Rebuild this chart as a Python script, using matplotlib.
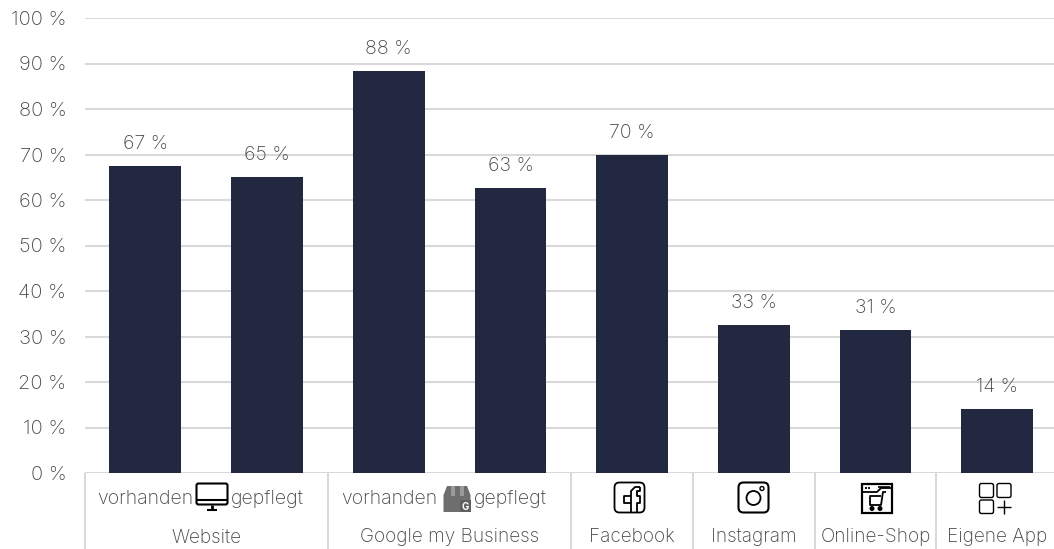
import matplotlib
matplotlib.use("Agg")
import matplotlib.pyplot as plt
from matplotlib.patches import Rectangle, FancyBboxPatch, Circle, Polygon
from matplotlib.transforms import blended_transform_factory

plt.rcParams['font.family'] = ['Inter', 'DejaVu Sans']
plt.rcParams['font.weight'] = 'light'

values = [67.4, 65.0, 88.3, 62.7, 69.8, 32.6, 31.4, 14.0]
value_labels = ['67 %', '65 %', '88 %', '63 %', '70 %', '33 %', '31 %', '14 %']
sub_labels = ['vorhanden', 'gepflegt', 'vorhanden', 'gepflegt']
group_labels = ['Website', 'Google my Business', 'Facebook', 'Instagram', 'Online-Shop', 'Eigene App']
group_centers = [0.5, 2.5, 4, 5, 6, 7]
group_edges = [-0.5, 1.5, 3.5, 4.5, 5.5, 6.5]
y_ticks = list(range(0, 101, 10))

W, H = 1054, 549
TXT = '#474747'
GRID = '#d9d9d9'
BAR = '#222840'
FS = 14

fig = plt.figure(figsize=(W / 100, H / 100), dpi=100)
left, right, top, bottom = 84.5, 1054, 18, 473
ax = fig.add_axes([left / W, 1 - bottom / H, (right - left) / W, (bottom - top) / H])
ax.set_xlim(-0.5, -0.5 + (right - left) / 121.7)
ax.set_ylim(0, 100)
ax.bar(range(len(values)), values, width=0.59, color=BAR, zorder=3)
for i, (v, s) in enumerate(zip(values, value_labels)):
    ax.annotate(s, (i, v), xytext=(0, 22), textcoords='offset pixels', ha='center', va='center',
                fontsize=FS, color=TXT, zorder=4)
ax.set_yticks(y_ticks)
ax.set_yticklabels([f'{t} %' for t in y_ticks], fontsize=14.5, color=TXT)
ax.tick_params(axis='y', length=0, pad=13)
ax.tick_params(axis='x', length=0, labelbottom=False)
ax.grid(axis='y', color=GRID, lw=1.5, zorder=0)
ax.set_axisbelow(True)
for s in ax.spines.values():
    s.set_visible(False)

# overlay in pixel coordinates for the category table and the icons
ov = fig.add_axes([0, 0, 1, 1], facecolor='none')
ov.set_xlim(0, W)
ov.set_ylim(H, 0)
ov.axis('off')
tr = blended_transform_factory(ax.transData, ov.transData)

for e in group_edges:
    ov.plot([e, e], [473, 549], transform=tr, color=GRID, lw=1.5, clip_on=False, solid_capstyle='butt')
for i, s in enumerate(sub_labels):
    ov.text(i, 499.5, s, transform=tr, ha='center', va='center', fontsize=FS, color=TXT)
for c, s in zip(group_centers, group_labels):
    ov.text(c, 537.5, s, transform=tr, ha='center', va='center', fontsize=13.7, color=TXT)

K = 'black'
def line(xs, ys, lw=1.5, c=K):
    ov.plot(xs, ys, color=c, lw=lw, solid_capstyle='butt', zorder=5)
def rrect(x, y, w, h, r=3, lw=1.5, fc='white', ec=K):
    ov.add_patch(FancyBboxPatch((x + r, y + r), w - 2 * r, h - 2 * r, boxstyle=f'round,pad={r}',
                                fc=fc, ec=ec, lw=lw, zorder=4))

# monitor
rrect(196.5, 483.5, 31, 21, r=2)
line([197, 227], [500, 500])
line([212, 212], [505, 509], lw=2)
line([207, 217], [509.5, 509.5], lw=1.5)

# Google my Business
G = '#6e6e6e'
ov.add_patch(Polygon([[443.5, 495], [447, 486], [467, 486], [470.5, 495], [470.5, 512], [443.5, 512]], fc=G, ec='none', zorder=4))
ov.add_patch(Rectangle((451, 486), 4, 10, fc='#9a9a9a', ec='none', zorder=4))
ov.add_patch(Rectangle((460, 486), 4, 10, fc='#9a9a9a', ec='none', zorder=4))
ov.add_patch(Rectangle((460, 500), 11, 12, fc='#5f5f5f', ec='none', zorder=4))
ov.text(465.5, 506.5, 'G', ha='center', va='center', fontsize=7, color='white', weight='bold', zorder=5)

# Facebook
rrect(614.5, 482.5, 30, 30, r=5, lw=1.3)
line([640, 635, 631, 631], [487, 487, 491, 512], lw=1.3)
line([640, 640, 636.5, 636.5, 640, 640, 637, 637],
     [487, 491, 491, 496, 496, 503, 503, 512], lw=1.3)
line([631, 624, 624, 631], [496, 496, 503, 503], lw=1.3)

# Instagram
rrect(738.5, 482.5, 30, 30, r=5, lw=1.5)
ov.add_patch(Circle((753.5, 498), 7, fc='none', ec=K, lw=1.3, zorder=5))
ov.add_patch(Circle((762, 488.5), 2, fc='none', ec=K, lw=1, zorder=5))

# Online shop
ov.add_patch(Rectangle((861.5, 483.5), 30, 29.5, fc='white', ec=K, lw=1.6, zorder=4))
line([862, 877, 881, 891], [492, 492, 488, 488], lw=1.3)
line([878, 890], [486.5, 486.5], lw=1.2)
line([865, 866.5], [487.5, 487.5], lw=1.3)
line([868, 869.5], [487.5, 487.5], lw=1.3)
line([886, 883, 881, 870, 870, 881], [492, 492, 505, 505, 496, 496], lw=1.3)
ov.add_patch(Circle((872, 508.5), 1.8, fc=K, ec=K, zorder=5))
ov.add_patch(Circle((880, 508.5), 1.8, fc=K, ec=K, zorder=5))

# app grid
rrect(979.5, 483.5, 14, 14, r=2, lw=1.0)
rrect(997, 483.5, 14, 14, r=2, lw=1.0)
rrect(979.5, 500, 14, 13.5, r=2, lw=1.0)
line([997, 1011], [507, 507], lw=1.0)
line([1004, 1004], [500, 514], lw=1.0)

fig.savefig('out.png', dpi=100)
